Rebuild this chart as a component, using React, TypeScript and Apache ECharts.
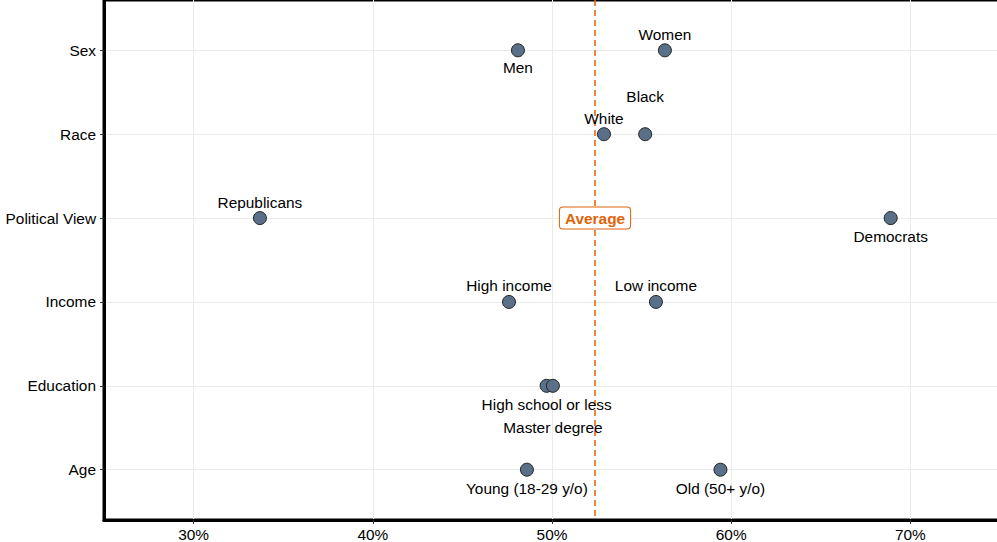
import React, { useEffect, useRef } from "react";
import * as echarts from "echarts";

// ---- data ----
const categories = ["Sex", "Race", "Political View", "Income", "Education", "Age"];
const pointNames = [
  "Men", "Women",
  "White", "Black",
  "Republicans", "Democrats",
  "High income", "Low income",
  "High school or less", "Master degree",
  "Young (18-29 y/o)", "Old (50+ y/o)",
];
const pointGroups = [
  "Sex", "Sex",
  "Race", "Race",
  "Political View", "Political View",
  "Income", "Income",
  "Education", "Education",
  "Age", "Age",
];
const pointValues = [48.1, 56.3, 52.9, 55.2, 33.7, 68.9, 47.6, 55.8, 49.7, 50.05, 48.6, 59.4];
const averageValue = 52.4;
const averageLabel = "Average";
const xTickValues = [30, 40, 50, 60, 70];

// ---- label placement (style) ----
const labelOffsets: number[] = [17, -16, -16, -38, -16, 18, -16, -16, 19, 42, 19, 19];

const ORANGE = "#DF6209";
const FONT = "'Liberation Sans', Arial, sans-serif";
const FS = 15.4;

export default function App() {
  const ref = useRef<HTMLDivElement>(null);
  useEffect(() => {
    if (!ref.current) return;
    document.body.style.overflow = "hidden";
    const chart = echarts.init(ref.current, undefined, { renderer: "svg" });
    const yTickValues = categories.map((_, i) => i + 1);
    const data = pointNames.map((name, i) => ({
      name,
      value: [pointValues[i], categories.indexOf(pointGroups[i]) + 1],
      label: { offset: [0, labelOffsets[i]] },
    }));
    chart.setOption({
      animation: false,
      textStyle: { fontFamily: FONT },
      grid: {
        left: 104,
        right: 0,
        top: -0.5,
        bottom: 22,
        show: true,
        borderColor: "#000",
        borderWidth: 3,
        backgroundColor: "transparent",
      },
      xAxis: {
        type: "value",
        min: 25,
        max: 75,
        axisLine: { show: true, onZero: false, lineStyle: { color: "#000", width: 3 } },
        axisTick: { show: true, customValues: xTickValues, length: 4, lineStyle: { color: "#333" } },
        axisLabel: {
          customValues: xTickValues,
          formatter: (v: number) => `${v}%`,
          fontSize: FS,
          color: "#000",
          margin: 7,
          fontFamily: FONT,
        },
        splitLine: { show: true, lineStyle: { color: "#EBEBEB", width: 1 } },
      },
      yAxis: {
        type: "value",
        inverse: true,
        min: 0.4,
        max: 6.6,
        axisLine: { show: true, onZero: false, lineStyle: { color: "#000", width: 3 } },
        axisTick: { show: true, customValues: yTickValues, length: 4, lineStyle: { color: "#333" } },
        axisLabel: {
          customValues: yTickValues,
          formatter: (v: number) => categories[Math.round(v) - 1] ?? "",
          fontSize: FS,
          color: "#000",
          margin: 8,
          fontFamily: FONT,
        },
        splitLine: { show: true, lineStyle: { color: "#EBEBEB", width: 1 } },
      },
      series: [
        {
          type: "scatter",
          data,
          symbol: "circle",
          symbolSize: 13,
          itemStyle: { color: "#5A6F88", borderColor: "#222", borderWidth: 1, opacity: 1 },
          label: {
            show: true,
            position: "inside",
            formatter: "{b}",
            fontSize: FS,
            color: "#000",
            fontFamily: FONT,
          },
          emphasis: { disabled: true },
          z: 3,
          markLine: {
            silent: true,
            symbol: "none",
            label: { show: false },
            lineStyle: { color: ORANGE, type: [6, 4], width: 1.5, opacity: 1 },
            emphasis: { disabled: true },
            data: [{ xAxis: averageValue }],
            z: 2,
          },
        },
        {
          type: "scatter",
          data: [{ name: averageLabel, value: [averageValue, categories.indexOf("Political View") + 1] }],
          symbolSize: 0,
          z: 10,
          emphasis: { disabled: true },
          label: {
            show: true,
            position: "inside",
            formatter: "{b}",
            fontSize: FS,
            fontWeight: "bold",
            color: ORANGE,
            opacity: 1,
            fontFamily: FONT,
            backgroundColor: "#fff",
            borderColor: ORANGE,
            borderWidth: 1,
            borderRadius: 3,
            padding: [3, 5, 3, 5],
          },
        },
      ],
    });
    return () => chart.dispose();
  }, []);
  return (
    <div
      ref={ref}
      style={{ position: "fixed", left: 0, top: 0, width: 1000, height: 542, background: "#fff" }}
    />
  );
}
